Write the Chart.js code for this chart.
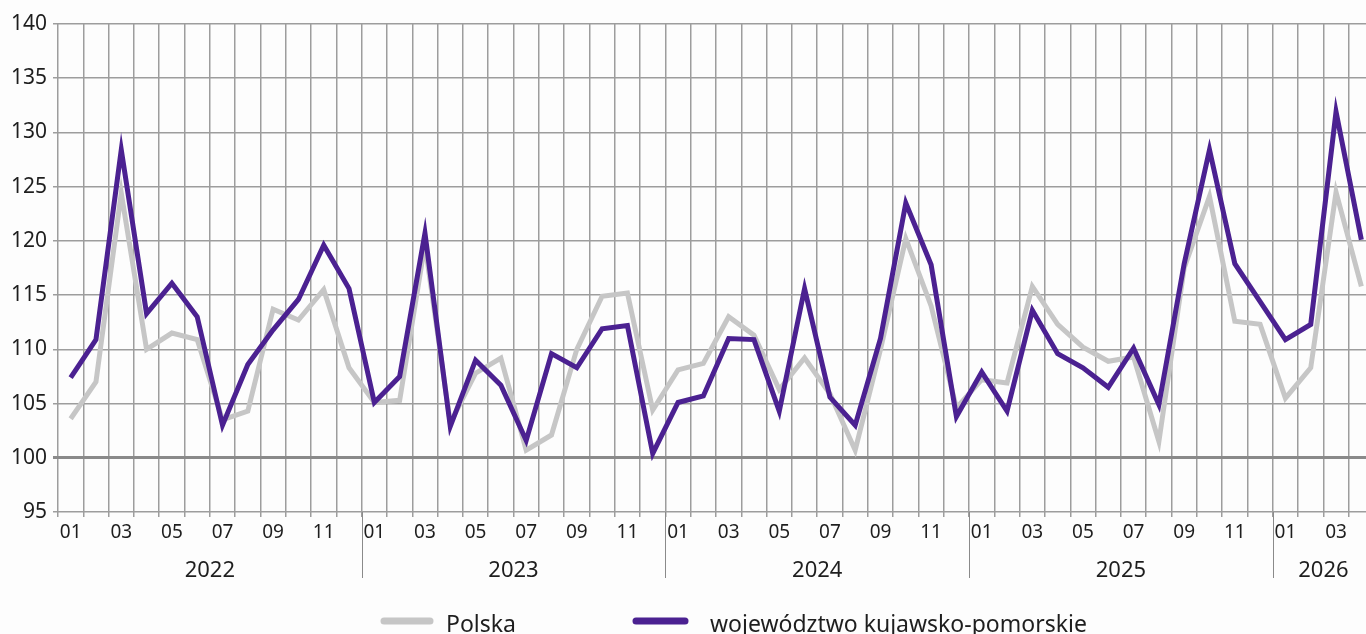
<!DOCTYPE html>
<html lang="pl">
<head>
<meta charset="utf-8">
<title>Polska vs województwo kujawsko-pomorskie</title>
<script src="https://cdn.jsdelivr.net/npm/chart.js@4.4.1/dist/chart.umd.min.js"></script>
<style>
    html, body { margin: 0; padding: 0; background: #fdfdfd; overflow: hidden; }
    #wrap { position: relative; width: 1376px; height: 634px; }
</style>
</head>
<body>
<div id="wrap"><canvas id="chart"></canvas></div>
<script>
// ── Data ─────────────────────────────────────────────────────────────────────
const YEARS = ['2022', '2023', '2024', '2025', '2026'];
const MONTHS_PER_YEAR = [12, 12, 12, 12, 4];
const MONTH_LABELS = ['01', '02', '03', '04', '05', '06', '07', '08', '09', '10', '11', '12'];

const POLSKA = [
    103.6, 107.0, 124.4, 110.0, 111.5, 110.9, 103.5, 104.3, 113.7, 112.7, 115.5, 108.3,
    105.1, 105.3, 119.7, 103.2, 107.8, 109.2, 100.7, 102.1, 110.0, 114.9, 115.2, 104.4,
    108.1, 108.7, 113.0, 111.3, 106.3, 109.2, 105.9, 100.7, 110.0, 120.2, 114.0, 104.6,
    107.2, 106.9, 115.8, 112.3, 110.2, 108.9, 109.3, 101.5, 117.5, 124.1, 112.6, 112.3,
    105.5, 108.3, 124.5, 115.8,
];
const KUJ_POM = [
    107.4, 110.9, 128.4, 113.3, 116.1, 113.0, 103.0, 108.6, 111.8, 114.6, 119.6, 115.6,
    105.1, 107.5, 120.7, 102.9, 109.0, 106.7, 101.6, 109.6, 108.3, 111.9, 112.2, 100.4,
    105.1, 105.7, 111.0, 110.9, 104.3, 115.6, 105.6, 103.0, 111.0, 123.5, 117.8, 103.8,
    107.9, 104.3, 113.6, 109.6, 108.3, 106.5, 110.1, 104.9, 117.9, 128.4, 117.9, 114.4,
    110.9, 112.3, 131.9, 120.1,
];

const Y_MIN = 95, Y_MAX = 140, Y_STEP = 5;

const GREY = '#c6c6c6';
const PURPLE = '#4b2191';
const GRID = '#9d9d9d';
const TEXT = '#1e1e1e';
const FONT = "'Noto Sans', 'Open Sans', sans-serif";

// One category per month: "01".."12" repeated per year.
const labels = [];
YEARS.forEach((y, i) => {
    for (let m = 0; m < MONTHS_PER_YEAR[i]; m++) labels.push(MONTH_LABELS[m]);
});

// ── Year labels + separators under the month ticks ───────────────────────────
const yearAxisPlugin = {
    id: 'yearAxis',
    afterDraw(chart) {
        const { ctx, chartArea, scales: { x } } = chart;
        const step = x.getPixelForValue(1) - x.getPixelForValue(0);
        ctx.save();
        ctx.strokeStyle = '#8a8a8a';
        ctx.lineWidth = 1;
        ctx.fillStyle = TEXT;
        ctx.font = `22px ${FONT}`;
        ctx.textAlign = 'center';
        ctx.textBaseline = 'middle';
        let start = 0;
        YEARS.forEach((year, i) => {
            const n = MONTHS_PER_YEAR[i];
            const left = x.getPixelForValue(start) - step / 2;
            const right = x.getPixelForValue(start + n - 1) + step / 2;
            if (i > 0) {
                ctx.beginPath();
                ctx.moveTo(Math.round(left) + 0.5, chartArea.bottom);
                ctx.lineTo(Math.round(left) + 0.5, 578);
                ctx.stroke();
            }
            ctx.fillText(year, (left + right) / 2, 571);
            start += n;
        });
        ctx.restore();
    },
};

// ── Legend drawn at the bottom (line swatch + text) ──────────────────────────
const bottomLegendPlugin = {
    id: 'bottomLegend',
    afterDraw(chart) {
        const { ctx } = chart;
        const items = [
            { text: 'Polska', color: GREY, x0: 384, x1: 430, tx: 446 },
            { text: 'województwo kujawsko-pomorskie', color: PURPLE, x0: 636, x1: 685, tx: 710 },
        ];
        ctx.save();
        ctx.lineCap = 'round';
        ctx.lineWidth = 7;
        ctx.font = `23px ${FONT}`;
        ctx.textAlign = 'left';
        ctx.textBaseline = 'alphabetic';
        items.forEach(it => {
            ctx.strokeStyle = it.color;
            ctx.beginPath();
            ctx.moveTo(it.x0, 621);
            ctx.lineTo(it.x1, 621);
            ctx.stroke();
            ctx.fillStyle = TEXT;
            ctx.fillText(it.text, it.tx, 632);
        });
        ctx.restore();
    },
};

new Chart(document.getElementById('chart'), {
    type: 'line',
    data: {
        labels,
        datasets: [
            {
                label: 'województwo kujawsko-pomorskie',
                data: KUJ_POM,
                borderColor: PURPLE,
                borderWidth: 5,
                pointRadius: 0,
                tension: 0,
                fill: false,
                borderJoinStyle: 'miter',
                order: 0,
            },
            {
                label: 'Polska',
                data: POLSKA,
                borderColor: GREY,
                borderWidth: 5,
                pointRadius: 0,
                tension: 0,
                fill: false,
                borderJoinStyle: 'miter',
                order: 1,
            },
        ],
    },
    options: {
        responsive: true,
        maintainAspectRatio: false,
        animation: false,
        layout: { padding: { top: 24, right: 2, left: 0, bottom: 0 } },
        scales: {
            x: {
                type: 'category',
                offset: true,
                grid: {
                    offset: true,
                    color: GRID,
                    lineWidth: 1.5,
                    tickLength: 5,
                    drawTicks: true,
                },
                border: { display: false },
                ticks: {
                    autoSkip: false,
                    maxRotation: 0,
                    padding: 4,
                    color: TEXT,
                    font: { size: 19, family: FONT },
                    callback: (v, i) => (i % 12) % 2 === 0 ? labels[i] : '',
                },
                afterFit: s => { s.height = 122; },
            },
            y: {
                min: Y_MIN,
                max: Y_MAX,
                grid: {
                    color: ctx => ctx.tick && ctx.tick.value === 100 ? '#8a8a8a' : GRID,
                    lineWidth: ctx => ctx.tick && ctx.tick.value === 100 ? 3 : 1.5,
                    tickLength: 5,
                },
                border: { display: false },
                ticks: {
                    stepSize: Y_STEP,
                    padding: 6,
                    color: TEXT,
                    font: { size: 21, family: FONT },
                },
                afterFit: s => { s.width = 58; },
            },
        },
        plugins: {
            legend: { display: false },
            tooltip: { enabled: false },
        },
    },
    plugins: [yearAxisPlugin, bottomLegendPlugin],
});
</script>
</body>
</html>
